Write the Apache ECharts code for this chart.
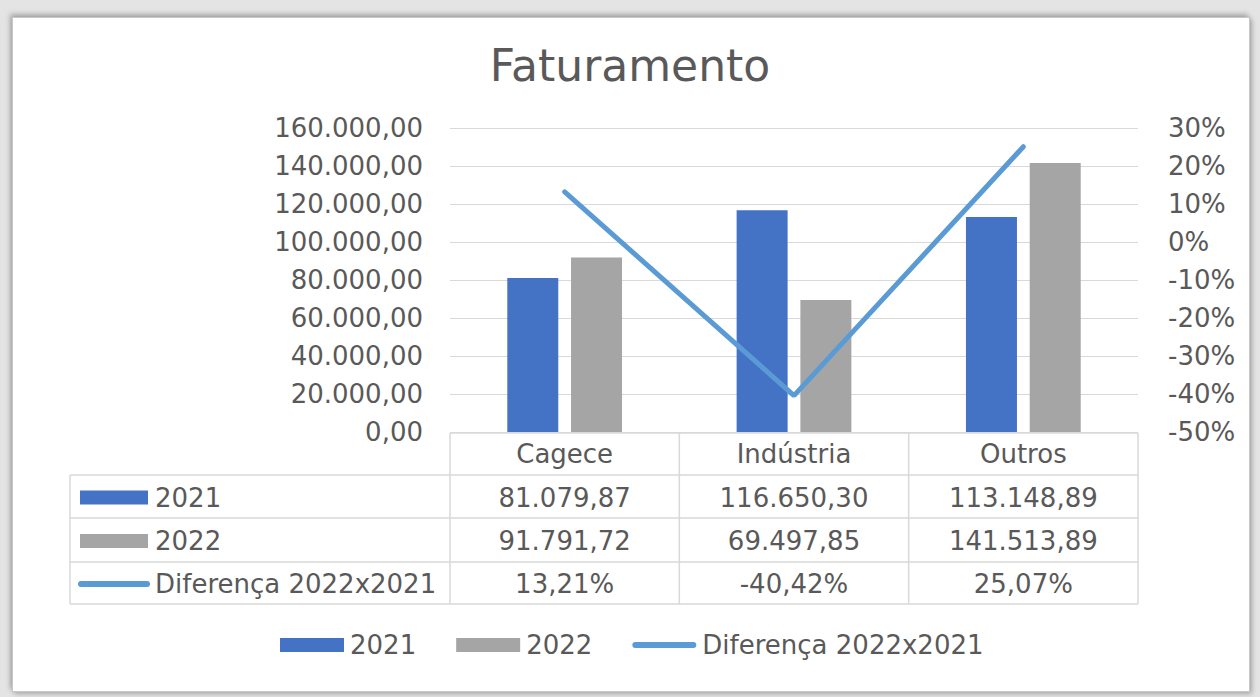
<!DOCTYPE html>
<html>
<head>
<meta charset="utf-8">
<title>Faturamento</title>
<script src="https://cdn.jsdelivr.net/npm/echarts@6/dist/echarts.min.js"></script>
<style>
  html, body { margin: 0; padding: 0; }
  body { width: 1260px; height: 697px; background: #e4e4e4; position: relative; overflow: hidden; }
  #frame {
    position: absolute; left: 12px; top: 17px; width: 1236px; height: 673px;
    background: #fff; border: 1px solid #c8c8c8;
    box-shadow: -2px -3px 5px rgba(0,0,0,0.25), 2px 2px 5px rgba(0,0,0,0.25);
  }
  #chart { position: absolute; left: 0; top: 0; width: 1260px; height: 697px; }
</style>
</head>
<body>
<div id="frame"></div>
<div id="chart"></div>
<script>
  // data
  const categories = ['Cagece', 'Indústria', 'Outros'];
  const values2021 = [81079.87, 116650.30, 113148.89];
  const values2022 = [91791.72, 69497.85, 141513.89];
  const diffPct = [13.21, -40.42, 25.07];
  const seriesNames = ['2021', '2022', 'Diferença 2022x2021'];

  const textColor = '#595959';
  const gridColor = '#d9d9d9';
  const font = 'DejaVu Sans';
  const colors = ['#4472C4', '#A5A5A5', '#5B9BD5'];

  const fmtBR = v => {
    const parts = Math.abs(v).toFixed(2).split('.');
    const int = parts[0].replace(/\B(?=(\d{3})+(?!\d))/g, '.');
    return (v < 0 ? '-' : '') + int + ',' + parts[1];
  };
  const fmtPct = v => fmtBR(v) + '%';

  // thin rounded bar used as the legend key of the line series
  const lineIcon = 'path://M3,0 L61,0 A3,3 0 0 1 61,6 L3,6 A3,3 0 0 1 3,0 Z';

  const chart = echarts.init(document.getElementById('chart'), null, { renderer: 'svg' });

  const gridLeft = 450, gridRight = 122, gridTop = 128, gridBottom = 265;

  chart.setOption({
    backgroundColor: 'transparent',
    animation: false,
    textStyle: { fontFamily: font },
    title: {
      text: 'Faturamento',
      left: 'center',
      top: 38,
      textStyle: { fontFamily: font, fontSize: 44, fontWeight: 'normal', color: textColor }
    },
    legend: {
      bottom: 34,
      left: 275,
      itemWidth: 64,
      itemHeight: 14,
      itemGap: 40,
      textStyle: { fontFamily: font, fontSize: 26, color: textColor, padding: [0, 0, 0, 1] },
      data: [
        { name: seriesNames[0], icon: 'rect' },
        { name: seriesNames[1], icon: 'rect' },
        { name: seriesNames[2], icon: lineIcon }
      ]
    },
    grid: { left: gridLeft, right: gridRight, top: gridTop, bottom: gridBottom },
    xAxis: {
      type: 'category',
      data: categories,
      axisTick: { show: false },
      axisLine: { show: false },
      axisLabel: { fontFamily: font, fontSize: 26, color: textColor, margin: 9 }
    },
    yAxis: [
      {
        type: 'value',
        min: 0,
        max: 160000,
        interval: 20000,
        axisLabel: { fontFamily: font, fontSize: 26, color: textColor, margin: 27, formatter: v => fmtBR(v) },
        splitLine: { lineStyle: { color: gridColor, width: 1 } }
      },
      {
        type: 'value',
        min: -50,
        max: 30,
        interval: 10,
        position: 'right',
        axisLabel: { fontFamily: font, fontSize: 26, color: textColor, margin: 30, formatter: v => Math.round(v) + '%' },
        splitLine: { show: false }
      }
    ],
    series: [
      {
        name: seriesNames[0], type: 'bar', data: values2021,
        barWidth: 51, barGap: '25%',
        itemStyle: { color: colors[0] }
      },
      {
        name: seriesNames[1], type: 'bar', data: values2022,
        barWidth: 51,
        itemStyle: { color: colors[1] }
      },
      {
        name: seriesNames[2], type: 'line', data: diffPct, yAxisIndex: 1,
        symbol: 'none', z: 5,
        lineStyle: { color: colors[2], width: 5, cap: 'round' },
        itemStyle: { color: colors[2] }
      }
    ]
  });

  // data table under the plot, columns aligned to the category axis
  const buildTable = () => {
    const xs = categories.map(c => chart.convertToPixel({ xAxisIndex: 0 }, c));
    const half = (xs[1] - xs[0]) / 2;
    const left = xs[0] - half, right = xs[xs.length - 1] + half;
    const labelLeft = 70;
    const headTop = 433;
    const rowTops = [475, 518, 562, 604];
    const line = (x1, y1, x2, y2) => ({
      type: 'line', silent: true,
      shape: { x1, y1, x2, y2 },
      style: { stroke: gridColor, lineWidth: 1.5 }
    });
    const text = (x, y, t, align) => ({
      type: 'text', silent: true, x, y,
      style: { text: t, fontFamily: font, fontSize: 26, fill: textColor, align: align || 'center', verticalAlign: 'middle' }
    });
    const els = [];
    // horizontal lines
    els.push(line(left, headTop, right, headTop));
    rowTops.forEach(y => els.push(line(labelLeft, y, right, y)));
    // vertical lines
    els.push(line(labelLeft, rowTops[0], labelLeft, rowTops[3]));
    els.push(line(left, headTop, left, rowTops[3]));
    xs.forEach(x => els.push(line(x + half, headTop, x + half, rowTops[3])));

    const rows = [values2021.map(fmtBR), values2022.map(fmtBR), diffPct.map(fmtPct)];
    rows.forEach((row, r) => {
      const cy = (rowTops[r] + rowTops[r + 1]) / 2 + 1;
      row.forEach((t, i) => els.push(text(xs[i], cy, t)));
      // legend key in the label column
      if (r < 2) {
        els.push({ type: 'rect', silent: true, shape: { x: 80, y: cy - 7, width: 68, height: 14 }, style: { fill: colors[r] } });
      } else {
        els.push({ type: 'line', silent: true, shape: { x1: 81, y1: cy, x2: 147, y2: cy }, style: { stroke: colors[2], lineWidth: 6, lineCap: 'round' } });
      }
      els.push(text(155, cy, seriesNames[r], 'left'));
    });
    chart.setOption({ graphic: { elements: els } });
  };
  buildTable();
</script>
</body>
</html>
